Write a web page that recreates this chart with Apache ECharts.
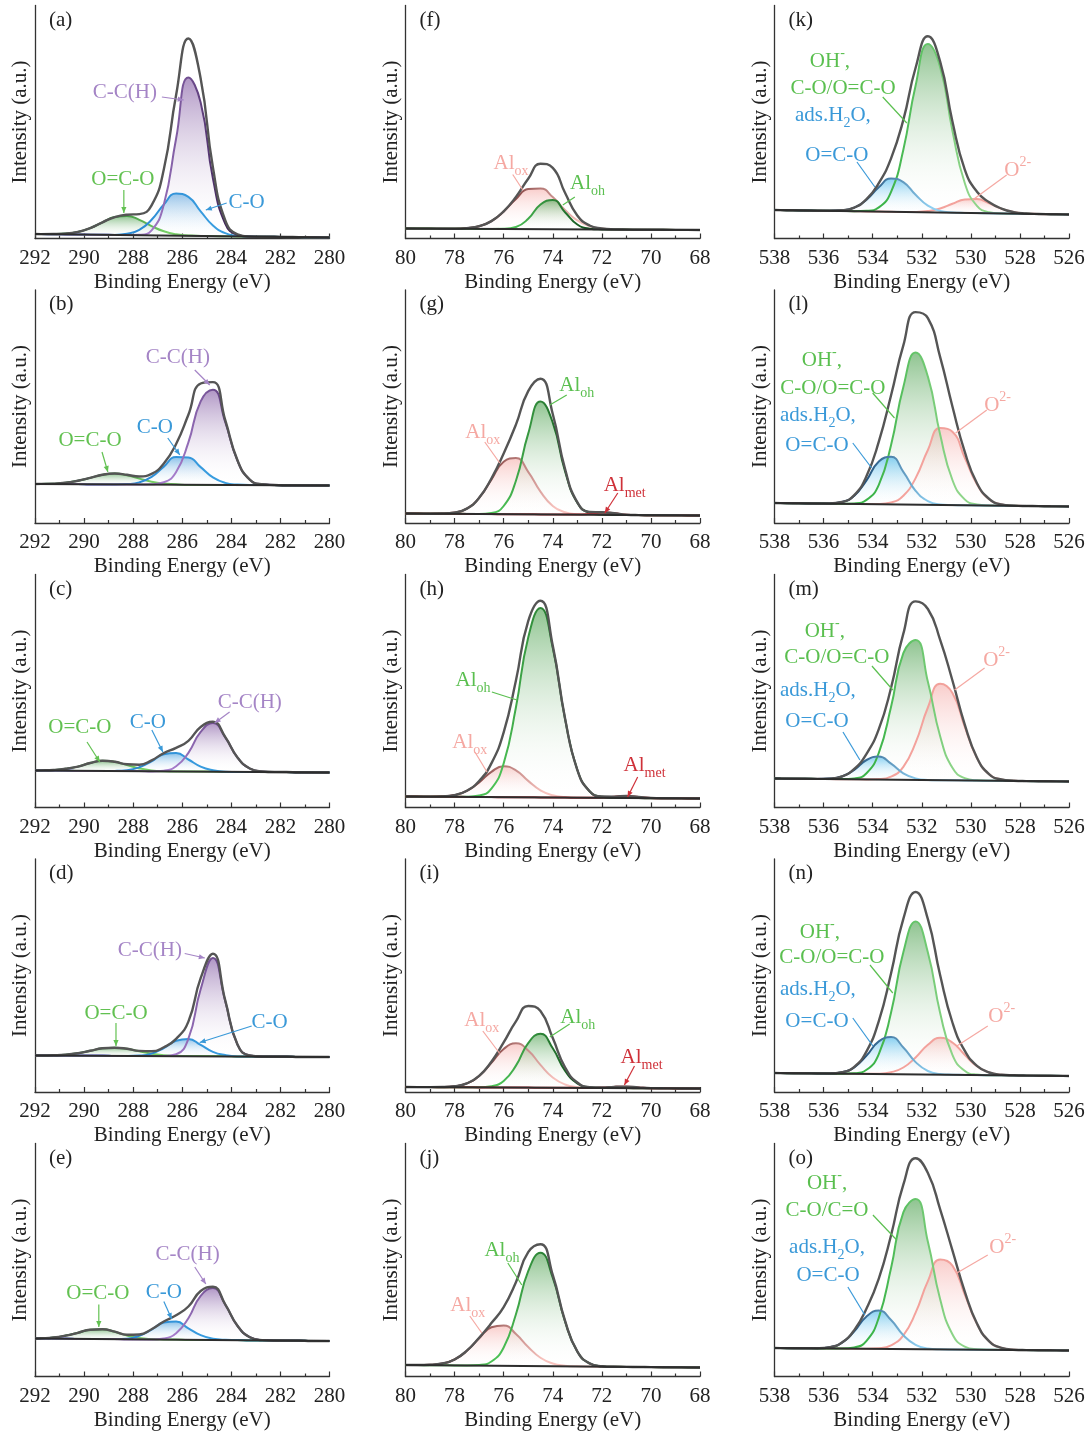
<!DOCTYPE html>
<html>
<head>
<meta charset="utf-8">
<script src="https://cdn.jsdelivr.net/npm/echarts/dist/echarts.min.js"></script>
<style>
  html, body { margin: 0; background: #fff; }
  #main { width: 1091px; height: 1434px; }
</style>
</head>
<body>
<div id="main"></div>
<script>
// binding energy grids (eV), one per column
const xC = [292, 291.75, 291.25, 290.75, 290.25, 289.75, 289.25, 288.75, 288.25, 287.75, 287.25, 286.75, 286.25, 285.75, 285.25, 284.75, 284.25, 283.75, 283.25, 282.75, 282.25, 281.75, 281.25, 280.75, 280.25, 280];
const xAl = [80, 79.5, 79, 78.5, 78, 77.5, 77, 76.5, 76, 75.5, 75, 74.5, 74, 73.5, 73, 72.5, 72, 71.5, 71, 70.5, 70, 69.5, 69, 68.5, 68];
const xO = [538, 537.75, 537.25, 536.75, 536.25, 535.75, 535.25, 534.75, 534.25, 533.75, 533.25, 532.75, 532.25, 531.75, 531.25, 530.75, 530.25, 529.75, 529.25, 528.75, 528.25, 527.75, 527.25, 526.75, 526.25, 526];

// C 1s  (a)-(e)
const aBase = [4.5, 1];
const aCCH = [4.5, 4.4, 4.3, 4.1, 4, 3.8, 3.7, 3.6, 3.4, 3.7, 8.2, 34, 100, 161, 136, 60, 15, 3.6, 1.9, 1.8, 1.7, 1.5, 1.4, 1.2, 1.1, 1];
const aCO = [4.5, 4.4, 4.3, 4.1, 4, 3.8, 3.7, 3.6, 4.7, 8.6, 18.7, 34, 45, 41.7, 27.2, 13, 5.3, 2.7, 1.9, 1.8, 1.7, 1.5, 1.4, 1.2, 1.1, 1];
const aOCO = [4.5, 4.4, 4.5, 4.9, 6.6, 10.4, 16.2, 21.4, 22.5, 18.7, 12.4, 7.2, 4.2, 3.1, 2.5, 2.4, 2.2, 2.1, 1.9, 1.8, 1.7, 1.5, 1.4, 1.2, 1.1, 1];
const aEnv = [4.5, 4.4, 4.5, 4.9, 6.6, 10.4, 16.2, 21.4, 23.8, 24.4, 33.1, 69.2, 143.5, 200, 160, 71, 18.3, 4.2, 1.9, 1.8, 1.7, 1.5, 1.4, 1.2, 1.1, 1];

const bBase = [39, 37.5];
const bCCH = [39, 39, 39, 39, 39, 38.5, 38.5, 38.5, 38.5, 38.5, 38.7, 40.7, 51, 80.7, 121.6, 133.3, 101, 62.3, 43.4, 38.7, 38, 37.5, 37.5, 37.5, 37.5, 37.5];
const bCO = [39, 39, 39, 39, 39, 38.5, 38.5, 38.5, 38.9, 40.6, 46.1, 56.4, 66, 65.5, 55.9, 45.6, 40.1, 38.4, 38, 38, 38, 37.5, 37.5, 37.5, 37.5, 37.5];
const bOCO = [39, 39.1, 39.3, 40.2, 42.3, 45.1, 48.3, 49.5, 47.8, 44.4, 41.3, 39.5, 38.8, 38, 38, 38, 38, 38, 38, 38, 38, 37.5, 37.5, 37.5, 37.5, 37.5];
const bEnv = [39, 39.1, 39.3, 40.2, 42.3, 45.1, 48.3, 49.5, 48.2, 46.5, 49.1, 59.6, 79, 108.2, 139.5, 140.9, 103.1, 62.7, 43.4, 38.7, 38, 37.5, 37.5, 37.5, 37.5, 37.5];

const cBase = [37, 35];
const cCCH = [37, 37, 37, 37, 36.5, 36.5, 36.5, 36.5, 36.5, 36.5, 36.1, 36.8, 41.2, 54.7, 75.6, 84.6, 70.2, 50, 39, 36, 35.5, 35.5, 35, 35, 35, 35];
const cCO = [37, 37, 37, 37, 36.5, 36.5, 36.5, 36.6, 37.3, 40.2, 46.1, 53.3, 54.4, 48, 40.9, 37.2, 35.7, 35.5, 35.5, 35.5, 35.5, 35.5, 35, 35, 35, 35];
const cOCO = [37, 37.1, 37.5, 38.7, 40.9, 44.5, 46.7, 45.7, 42.4, 39.1, 37, 36.2, 36, 36, 36, 36, 35.5, 35.5, 35.5, 35.5, 35.5, 35.5, 35, 35, 35, 35];
const cEnv = [37, 37.1, 37.5, 38.7, 40.9, 44.5, 46.8, 45.8, 43.2, 42.8, 47.2, 54.4, 59.6, 66.7, 80.5, 85.8, 70.6, 50.1, 39, 36, 35.5, 35.5, 35, 35, 35, 35];

const dBase = [36.5, 35];
const dCCH = [36.5, 36.5, 36.5, 36.5, 36.5, 36.5, 36.5, 36, 36, 36, 36, 36, 37.7, 53.3, 102.7, 134, 91, 47.3, 36.5, 35.5, 35.5, 35.5, 35, 35, 35, 35];
const dCO = [36.5, 36.5, 36.5, 36.5, 36.5, 36.5, 36.5, 36, 36, 36.4, 38.4, 44, 51.3, 53.1, 47.1, 40.2, 36.9, 35.6, 35.5, 35.5, 35.5, 35.5, 35, 35, 35, 35];
const dOCO = [36.5, 36.5, 36.7, 37.3, 38.8, 41.2, 43.7, 44.3, 43.2, 40.7, 38.3, 36.8, 36.2, 36, 36, 36, 36, 35.5, 35.5, 35.5, 35.5, 35.5, 35, 35, 35, 35];
const dEnv = [36.5, 36.5, 36.7, 37.3, 38.8, 41.2, 43.7, 44.3, 43.2, 41.1, 40.7, 44.8, 53.2, 70.4, 113.8, 138.2, 91.9, 47.4, 36.5, 35.5, 35.5, 35.5, 35, 35, 35, 35];

const eBase = [38, 35.5];
const eCCH = [38, 38, 38, 38, 37.5, 37.5, 37.5, 37.5, 37, 37, 37, 38, 43.3, 58.3, 80.7, 88.5, 72, 50.7, 39.3, 36.4, 36, 36, 36, 35.5, 35.5, 35.5];
const eCO = [38, 38, 38, 38, 37.5, 37.5, 37.5, 37.5, 37.8, 40.6, 46.9, 53.9, 54.9, 48.2, 41.3, 37.7, 36.7, 36.5, 36, 36, 36, 36, 36, 35.5, 35.5, 35.5];
const eOCO = [38, 38.2, 39, 40.9, 43.7, 46.8, 47.3, 44.8, 40.9, 38.4, 37.4, 37.1, 37, 36.5, 36.5, 36.5, 36.5, 36.5, 36, 36, 36, 36, 36, 35.5, 35.5, 35.5];
const eEnv = [38, 38.2, 39, 40.9, 43.7, 46.8, 47.3, 44.8, 41.7, 42, 47.3, 55, 61.2, 70, 85.5, 89.7, 72.2, 50.7, 39.3, 36.4, 36, 36, 36, 35.5, 35.5, 35.5];

// Al 2p  (f)-(j)
const fBase = [10, 8.5];
const fOx = [10, 9.9, 9.9, 9.8, 9.8, 10.4, 12.3, 17.4, 27, 39.5, 49.4, 50.1, 41.4, 28.6, 18.1, 12.3, 9.9, 9.1, 8.9, 8.8, 8.8, 8.7, 8.6, 8.6, 8.5];
const fOh = [10, 9.9, 9.9, 9.8, 9.8, 9.7, 9.6, 9.6, 9.7, 11.5, 19.7, 34, 38.6, 26.3, 14, 9.8, 9.1, 8.9, 8.9, 8.8, 8.8, 8.7, 8.6, 8.6, 8.5];
const fEnv = [10, 9.9, 9.9, 9.8, 9.8, 10.4, 12.3, 17.4, 27.2, 41.6, 59.7, 74.8, 70.7, 45.7, 23, 13, 10, 9.1, 8.9, 8.8, 8.8, 8.7, 8.6, 8.6, 8.5];

const gBase = [9.5, 7.5];
const gOx = [9.5, 9.4, 9.3, 9.45, 10.4, 14.4, 25.1, 43.4, 61.2, 64.9, 51.2, 31.4, 17.1, 10.7, 8.7, 8.25, 8.2, 8.1, 8, 7.9, 7.8, 7.75, 7.7, 7.6, 7.5];
const gOh = [9.5, 9.4, 9.3, 9.25, 9.2, 9.1, 9.1, 10, 17, 42.3, 89.4, 121.5, 100.4, 51.9, 20.3, 10.2, 8.4, 8.1, 8, 7.9, 7.8, 7.75, 7.7, 7.6, 7.5];
const gMet = [9.5, 9.4, 9.3, 9.25, 9.2, 9.1, 9, 8.9, 8.8, 8.75, 8.7, 8.6, 8.5, 8.4, 8.4, 9.15, 10.6, 9.7, 8.3, 7.9, 7.8, 7.75, 7.7, 7.6, 7.5];
const gEnv = [9.5, 9.4, 9.3, 9.45, 10.4, 14.4, 25.2, 44.5, 69.4, 98.4, 131.9, 144.3, 109, 54.2, 20.8, 11.05, 10.8, 9.7, 8.3, 7.9, 7.8, 7.75, 7.7, 7.6, 7.5];

const hBase = [11, 9];
const hOx = [11, 10.9, 10.85, 11.15, 12.4, 16.6, 25.1, 35.7, 41.3, 37.1, 26.6, 17.2, 12.2, 10.4, 9.8, 9.75, 9.7, 9.6, 9.5, 9.4, 9.3, 9.25, 9.2, 9.1, 9];
const hOh = [11, 10.9, 10.8, 10.75, 10.7, 10.8, 11.9, 18.8, 44.1, 100.2, 169.9, 199.6, 159.7, 88.8, 37.7, 16.25, 10.7, 9.7, 9.5, 9.4, 9.3, 9.25, 9.2, 9.1, 9];
const hMet = [11, 10.9, 10.8, 10.75, 10.7, 10.6, 10.5, 10.4, 10.3, 10.25, 10.2, 10.1, 10, 9.9, 9.8, 9.75, 10, 10.8, 11.5, 10.6, 9.6, 9.25, 9.2, 9.1, 9];
const hEnv = [11, 10.9, 10.85, 11.15, 12.4, 16.8, 26.5, 44.1, 75.1, 127, 186.3, 206.7, 161.9, 89.3, 37.7, 16.25, 11, 10.9, 11.5, 10.6, 9.6, 9.25, 9.2, 9.1, 9];

const iBase = [5, 3.5];
const iOx = [5, 4.9, 4.9, 5, 5.75, 8.6, 16, 29.1, 43, 48.7, 41.5, 27.1, 14.5, 7.5, 4.9, 4.2, 4, 3.9, 3.9, 3.8, 3.75, 3.7, 3.6, 3.55, 3.5];
const iOh = [5, 4.9, 4.9, 4.8, 4.75, 4.7, 4.7, 5.8, 11.1, 26.4, 48.9, 58.3, 43.7, 21.4, 8.7, 4.8, 4.1, 3.9, 3.9, 3.8, 3.75, 3.7, 3.6, 3.55, 3.5];
const iMet = [5, 4.9, 4.9, 4.8, 4.75, 4.7, 4.6, 4.55, 4.5, 4.45, 4.4, 4.3, 4.25, 4.2, 4.1, 4.05, 4.4, 5.1, 5.35, 4.5, 3.85, 3.7, 3.6, 3.55, 3.5];
const iEnv = [5, 4.9, 4.9, 5, 5.75, 8.6, 16.1, 30.3, 49.6, 70.7, 86, 81.1, 53.9, 24.7, 9.5, 4.9, 4.5, 5.1, 5.35, 4.5, 3.85, 3.7, 3.6, 3.55, 3.5];

const jBase = [11.5, 9];
const jOx = [11.5, 11.5, 11.7, 13, 17, 25.7, 38.2, 49.2, 51.1, 42.5, 29.5, 18.75, 13.05, 10.85, 10.15, 9.95, 9.8, 9.7, 9.6, 9.5, 9.4, 9.3, 9.2, 9.1, 9];
const jOh = [11.5, 11.4, 11.3, 11.2, 11.1, 11.1, 11.5, 15, 29, 62.3, 105.3, 123.85, 98.75, 55.15, 24.95, 13.15, 10.3, 9.7, 9.6, 9.5, 9.4, 9.3, 9.2, 9.1, 9];
const jEnv = [11.5, 11.5, 11.7, 13, 17, 25.8, 38.8, 53.4, 69.4, 94.2, 124.3, 132.25, 101.55, 55.85, 25.05, 13.15, 10.3, 9.7, 9.6, 9.5, 9.4, 9.3, 9.2, 9.1, 9];

// O 1s  (k)-(o)
const kBase = [28.5, 24];
const kOH = [28.5, 28.4, 28.2, 28, 27.8, 27.7, 27.5, 27.35, 27.7, 31.1, 46.7, 88.7, 153.1, 194.4, 171.3, 107.8, 55.7, 32.6, 26.3, 25.1, 24.8, 24.7, 24.5, 24.3, 24.1, 24];
const kH2O = [28.5, 28.4, 28.2, 28, 27.8, 27.8, 28.2, 30.9, 38.7, 51.2, 60.1, 56.4, 43.7, 32.8, 27.6, 26.1, 25.6, 25.4, 25.2, 25, 24.8, 24.7, 24.5, 24.3, 24.1, 24];
const kO2 = [28.5, 28.4, 28.2, 28, 27.8, 27.7, 27.5, 27.3, 27.1, 26.9, 26.7, 26.5, 26.55, 27.4, 30, 34.7, 39.1, 39.5, 35.2, 29.8, 26.4, 25.05, 24.55, 24.3, 24.1, 24];
const kEnv = [28.5, 28.4, 28.2, 28, 27.8, 27.8, 28.2, 30.95, 39.3, 55.4, 80.1, 118.6, 170.75, 202.2, 176.9, 117, 69.2, 46.7, 36.3, 29.9, 26.4, 25.05, 24.55, 24.3, 24.1, 24];

const lBase = [20, 16.5];
const lOH = [20, 19.9, 19.8, 19.6, 19.5, 19.3, 19.2, 19.6, 23.1, 38.2, 78.1, 136.1, 170.4, 146.4, 88.4, 43, 23.6, 18.5, 17.5, 17.3, 17.2, 17, 16.9, 16.7, 16.6, 16.5];
const lH2O = [20, 19.9, 19.8, 19.6, 19.5, 19.5, 21, 27.2, 42.7, 61.5, 66.2, 51.2, 32.2, 21.9, 18.6, 18, 17.7, 17.6, 17.4, 17.3, 17.2, 17, 16.9, 16.7, 16.6, 16.5];
const lO2 = [20, 19.9, 19.8, 19.6, 19.5, 19.3, 19.2, 19, 18.9, 19, 20.6, 27.3, 44.9, 73, 94.9, 91.3, 65.4, 38.8, 23.8, 18.6, 17.4, 17, 16.9, 16.7, 16.6, 16.5];
const lEnv = [20, 19.9, 19.8, 19.6, 19.5, 19.5, 21, 27.8, 46.9, 81.3, 127.7, 177.6, 210.9, 204.9, 165.9, 116.5, 71.3, 39.7, 24, 18.6, 17.4, 17, 16.9, 16.7, 16.6, 16.5];

const mBase = [29, 26];
const mOH = [29, 28.9, 28.8, 28.7, 28.6, 28.4, 28.4, 29.1, 34.3, 54.7, 100.7, 154.3, 167.4, 125.7, 71.3, 39.7, 29.4, 27.2, 26.8, 26.7, 26.6, 26.4, 26.3, 26.2, 26.1, 26];
const mH2O = [29, 28.9, 28.8, 28.7, 28.6, 28.9, 31, 37.7, 47.5, 51, 43.8, 34.2, 29.1, 27.6, 27.3, 27.2, 27.1, 26.9, 26.8, 26.7, 26.6, 26.4, 26.3, 26.2, 26.1, 26];
const mO2 = [29, 28.9, 28.8, 28.7, 28.6, 28.4, 28.3, 28.2, 28.1, 28.4, 30.9, 40.7, 64.8, 100, 123.7, 114.5, 80.9, 49.5, 33.2, 28, 26.8, 26.4, 26.3, 26.2, 26.1, 26];
const mEnv = [29, 28.9, 28.8, 28.7, 28.6, 28.9, 31.1, 38.6, 53.7, 78.3, 119.8, 173.8, 206.1, 198.5, 167.7, 127, 83.2, 49.8, 33.2, 28, 26.8, 26.4, 26.3, 26.2, 26.1, 26];

const nBase = [19, 16];
const nOH = [19, 18.9, 18.8, 18.7, 18.6, 18.4, 18.3, 18.7, 22.2, 37.8, 79.6, 139.7, 170.6, 139.4, 79.1, 37.1, 21.2, 17.4, 16.8, 16.7, 16.6, 16.4, 16.3, 16.2, 16.1, 16];
const nH2O = [19, 18.9, 18.8, 18.7, 18.6, 18.6, 19.8, 24.7, 36.4, 50.6, 54.9, 44.5, 29.9, 21, 18, 17.3, 17.1, 16.9, 16.8, 16.7, 16.6, 16.4, 16.3, 16.2, 16.1, 16];
const nO2 = [19, 18.9, 18.8, 18.7, 18.6, 18.4, 18.3, 18.2, 18.2, 18.3, 19.8, 24.5, 34.6, 47.2, 54.2, 49.5, 37.2, 25.7, 19.5, 17.3, 16.7, 16.4, 16.3, 16.2, 16.1, 16];
const nEnv = [19, 18.9, 18.8, 18.7, 18.6, 18.6, 19.8, 25.2, 40.6, 70.9, 118.7, 173.2, 200, 172.8, 116.7, 69.5, 41.3, 26.2, 19.5, 17.3, 16.7, 16.4, 16.3, 16.2, 16.1, 16];

const oBase = [28.5, 26];
const oOH = [28.5, 28.4, 28.3, 28.2, 28.1, 28, 28, 29.1, 35.6, 58.9, 108.6, 164.1, 177.4, 134.7, 77.3, 42.3, 29.9, 27.2, 26.7, 26.6, 26.5, 26.4, 26.3, 26.2, 26.05, 26];
const oH2O = [28.5, 28.4, 28.3, 28.2, 28.3, 29.3, 33.8, 45.1, 60, 66, 56.5, 41.3, 31.6, 28, 27.2, 27, 26.9, 26.8, 26.7, 26.6, 26.5, 26.4, 26.3, 26.2, 26.05, 26];
const oO2 = [28.5, 28.4, 28.3, 28.2, 28.1, 28, 27.9, 27.8, 27.8, 28.3, 31.2, 41.2, 63.8, 95.3, 116.9, 110.9, 82.2, 52.6, 35.2, 28.6, 26.8, 26.4, 26.3, 26.2, 26.05, 26];
const oEnv = [28.5, 28.4, 28.3, 28.2, 28.3, 29.3, 33.9, 46.4, 68, 97.9, 141.3, 191.8, 218.2, 203.6, 167.2, 126.2, 85.2, 53, 35.2, 28.6, 26.8, 26.4, 26.3, 26.2, 26.05, 26];

const FONT = '"Liberation Serif", "Times New Roman", serif';
const Y_MAX = 233;
const TOP0 = 5.5, ROW_STEP = 284.5, PW = 294.5;
const cols = [
    {left: 35, min: 280, max: 292, x: xC},
    {left: 405.5, min: 68, max: 80, x: xAl},
    {left: 774.5, min: 526, max: 538, x: xO}
];

// line colours (left side -> right side) and top of the fill gradient for each fitted component
const comp = {
    cch: {line: ['#a67dcc', '#3b2055'], top: 'rgba(126,84,160,0.88)'},
    co:  {line: ['#2c8ad3', '#3a9ee0'], top: 'rgba(56,150,218,0.85)'},
    oco: {line: ['#1b6a2b', '#78d066'], top: 'rgba(60,150,62,0.82)'},
    ox:  {line: ['#6e2c2c', '#f8c3be'], top: 'rgba(241,140,135,0.62)'},
    oh:  {line: ['#4cc055', '#0e4a19'], top: 'rgba(60,152,62,0.82)'},
    met: {line: ['#c4303a', '#c4303a'], top: null},
    ohO: {line: ['#3cb449', '#8fd58a'], top: 'rgba(60,152,62,0.82)'},
    h2o: {line: ['#0c3764', '#8fd0f2'], top: 'rgba(70,182,236,0.92)'},
    o2:  {line: ['#f4a39d', '#f0a09a'], top: 'rgba(241,140,135,0.62)'}
};
const textColor = {cch: '#a585c6', co: '#3a99d8', oco: '#62c151', ox: '#f5a8a2', oh: '#5abf4f', ohO: '#5abf4f', met: '#cf3139', h2o: '#3a99d8', o2: '#f5a8a2'};

const AL_OX = '{n|Al}{s|ox}', AL_OH = '{n|Al}{s|oh}', AL_MET = '{n|Al}{s|met}';
const OH_T = '{n|OH}{p|-}{n|,}', H2O_T = '{n|ads.H}{s|2}{n|O,}', O2_T = '{n|O}{p|2-}';

const panels = [
    {tag: '(a)', col: 0, row: 0, base: aBase, env: aEnv, comps: [['oco', aOCO], ['co', aCO], ['cch', aCCH]],
     notes: [['C-C(H)', 288.34, 146.5, 'cch'], ['O=C-O', 288.42, 59.5, 'oco'], ['C-O', 283.38, 36.5, 'co']],
     leads: [[286.83, 141.5, 285.94, 138.5, 'cch', 1], [288.38, 48.5, 288.38, 25.5, 'oco', 1], [284.19, 35.5, 285.04, 28.5, 'co', 1]]},
    {tag: '(b)', col: 0, row: 1, base: bBase, env: bEnv, comps: [['oco', bOCO], ['co', bCO], ['cch', bCCH]],
     notes: [['C-C(H)', 286.18, 166, 'cch'], ['C-O', 287.12, 96, 'co'], ['O=C-O', 289.76, 83, 'oco']],
     leads: [[285.49, 153, 284.88, 138, 'cch', 1], [286.59, 85, 286.1, 68, 'co', 1], [289.27, 71, 289.03, 51, 'oco', 1]]},
    {tag: '(c)', col: 0, row: 2, base: cBase, env: cEnv, comps: [['oco', cOCO], ['co', cCO], ['cch', cCCH]],
     notes: [['C-C(H)', 283.25, 105.5, 'cch'], ['C-O', 287.4, 85.5, 'co'], ['O=C-O', 290.17, 80.5, 'oco']],
     leads: [[284.07, 95.5, 284.68, 84.5, 'cch', 1], [287.24, 77.5, 286.79, 55.5, 'co', 1], [289.88, 65.5, 289.36, 45.5, 'oco', 1]]},
    {tag: '(d)', col: 0, row: 3, base: dBase, env: dEnv, comps: [['oco', dOCO], ['co', dCO], ['cch', dCCH]],
     notes: [['C-C(H)', 287.32, 142, 'cch'], ['C-O', 282.44, 70, 'co'], ['O=C-O', 288.7, 79, 'oco']],
     leads: [[285.9, 138.5, 285.08, 134, 'cch', 1], [283.17, 66, 285.29, 49.5, 'co', 1], [288.7, 69, 288.7, 46, 'oco', 1]]},
    {tag: '(e)', col: 0, row: 4, base: eBase, env: eEnv, comps: [['oco', eOCO], ['co', eCO], ['cch', eCCH]],
     notes: [['C-C(H)', 285.78, 122.5, 'cch'], ['C-O', 286.75, 84, 'co'], ['O=C-O', 289.44, 83.5, 'oco']],
     leads: [[285.49, 109.5, 285.04, 92.5, 'cch', 1], [286.75, 75, 286.43, 57.5, 'co', 1], [289.4, 72, 289.4, 49.5, 'oco', 1]]},

    {tag: '(f)', col: 1, row: 0, base: fBase, env: fEnv, comps: [['ox', fOx], ['oh', fOh]],
     notes: [[AL_OX, 75.7, 75.5, 'ox'], [AL_OH, 72.58, 55.5, 'oh']],
     leads: [[75.63, 64, 75.22, 48.5, 'ox', 0], [73.1, 41.5, 73.59, 33.5, 'oh', 0]]},
    {tag: '(g)', col: 1, row: 1, base: gBase, env: gEnv, comps: [['ox', gOx], ['oh', gOh], ['met', gMet]],
     notes: [[AL_OX, 76.85, 91, 'ox'], [AL_OH, 73.02, 138, 'oh'], [AL_MET, 71.07, 38, 'met']],
     leads: [[76.77, 81, 76.16, 60, 'ox', 0], [73.43, 128, 74.12, 118, 'oh', 0], [71.35, 30, 71.88, 10, 'met', 1]]},
    {tag: '(h)', col: 1, row: 2, base: hBase, env: hEnv, comps: [['ox', hOx], ['oh', hOh], ['met', hMet]],
     notes: [[AL_OH, 77.25, 127.5, 'oh'], [AL_OX, 77.38, 65.5, 'ox'], [AL_MET, 70.26, 42.5, 'met']],
     leads: [[76.48, 115.5, 75.46, 107.5, 'oh', 0], [77.17, 55.5, 76.68, 35.5, 'ox', 0], [70.54, 30.5, 70.95, 10.5, 'met', 1]]},
    {tag: '(i)', col: 1, row: 3, base: iBase, env: iEnv, comps: [['ox', iOx], ['oh', iOh], ['met', iMet]],
     notes: [[AL_OH, 72.98, 75, 'oh'], [AL_OX, 76.89, 72, 'ox'], [AL_MET, 70.38, 35, 'met']],
     leads: [[73.31, 68, 74.12, 55, 'oh', 0], [76.85, 61, 76.16, 38.5, 'ox', 0], [70.67, 26, 71.08, 7, 'met', 1]]},
    {tag: '(j)', col: 1, row: 4, base: jBase, env: jEnv, comps: [['ox', jOx], ['oh', jOh]],
     notes: [[AL_OH, 76.07, 126.5, 'oh'], [AL_OX, 77.46, 71.5, 'ox']],
     leads: [[75.83, 113.5, 75.26, 91.5, 'oh', 0], [77.38, 60.5, 76.89, 43.5, 'ox', 0]]},

    {tag: '(k)', col: 2, row: 0, base: kBase, env: kEnv, comps: [['o2', kO2], ['ohO', kOH], ['h2o', kH2O]],
     notes: [[OH_T, 535.74, 177.5, 'ohO'], ['C-O/O=C-O', 535.21, 150.5, 'ohO'], [H2O_T, 535.62, 123.5, 'h2o'], ['O=C-O', 535.46, 83.5, 'h2o'], [O2_T, 528.09, 68.5, 'o2']],
     leads: [[533.59, 141.5, 532.61, 115.5, 'ohO', 0], [534.64, 76.5, 533.91, 51.5, 'h2o', 0], [528.54, 63.5, 529.93, 38.5, 'o2', 0]]},
    {tag: '(l)', col: 2, row: 1, base: lBase, env: lEnv, comps: [['o2', lO2], ['ohO', lOH], ['h2o', lH2O]],
     notes: [[OH_T, 536.07, 163, 'ohO'], ['C-O/O=C-O', 535.62, 135, 'ohO'], [H2O_T, 536.23, 108, 'h2o'], ['O=C-O', 536.27, 78, 'h2o'], [O2_T, 528.91, 118, 'o2']],
     leads: [[534.0, 130, 533.11, 105, 'ohO', 0], [534.81, 80, 534.04, 55, 'h2o', 0], [529.35, 113, 530.62, 90, 'o2', 0]]},
    {tag: '(m)', col: 2, row: 2, base: mBase, env: mEnv, comps: [['o2', mO2], ['ohO', mOH], ['h2o', mH2O]],
     notes: [[OH_T, 535.95, 176.5, 'ohO'], ['C-O/O=C-O', 535.46, 150.5, 'ohO'], [H2O_T, 536.23, 117.5, 'h2o'], ['O=C-O', 536.27, 86.5, 'h2o'], [O2_T, 528.95, 147.5, 'o2']],
     leads: [[534.03, 141.5, 533.18, 117.5, 'ohO', 0], [535.21, 75.5, 534.52, 47.5, 'h2o', 0], [529.44, 139.5, 530.66, 117.5, 'o2', 0]]},
    {tag: '(n)', col: 2, row: 3, base: nBase, env: nEnv, comps: [['o2', nO2], ['ohO', nOH], ['h2o', nH2O]],
     notes: [[OH_T, 536.15, 160, 'ohO'], ['C-O/O=C-O', 535.66, 135, 'ohO'], [H2O_T, 536.23, 103, 'h2o'], ['O=C-O', 536.27, 71, 'h2o'], [O2_T, 528.74, 76, 'o2']],
     leads: [[534.11, 127, 533.18, 99, 'ohO', 0], [534.81, 74, 533.99, 46, 'h2o', 0], [529.31, 66, 530.57, 46, 'o2', 0]]},
    {tag: '(o)', col: 2, row: 4, base: oBase, env: oEnv, comps: [['o2', oO2], ['ohO', oOH], ['h2o', oH2O]],
     notes: [[OH_T, 535.86, 193.5, 'ohO'], ['C-O/C=O', 535.86, 166.5, 'ohO'], [H2O_T, 535.86, 129.5, 'h2o'], ['O=C-O', 535.82, 101.5, 'h2o'], [O2_T, 528.7, 129.5, 'o2']],
     leads: [[533.99, 161.5, 533.02, 136.5, 'ohO', 0], [535.01, 89.5, 534.32, 61.5, 'h2o', 0], [529.31, 121.5, 530.57, 103.5, 'o2', 0]]}
];

const grids = [], xAxes = [], yAxes = [];
panels.forEach((p, gi) => {
    const c = cols[p.col];
    grids.push({left: c.left, top: TOP0 + ROW_STEP * p.row, width: PW, height: Y_MAX});
    xAxes.push({
        gridIndex: gi, type: 'value', inverse: true, min: c.min, max: c.max, interval: 2,
        axisLine: {onZero: false, lineStyle: {color: '#333', width: 1.3}},
        axisTick: {inside: true, length: 5, lineStyle: {color: '#333', width: 1.2}},
        minorTick: {show: true, splitNumber: 2, length: 3, lineStyle: {color: '#333', width: 1.2}},
        splitLine: {show: false},
        axisLabel: {fontFamily: FONT, fontSize: 21, color: '#222', margin: 9},
        name: 'Binding Energy (eV)', nameLocation: 'middle', nameGap: 33,
        nameTextStyle: {fontFamily: FONT, fontSize: 21, color: '#222'}
    });
    yAxes.push({
        gridIndex: gi, type: 'value', min: 0, max: Y_MAX,
        axisLine: {show: true, lineStyle: {color: '#333', width: 1.3}},
        axisTick: {show: false}, axisLabel: {show: false}, splitLine: {show: false},
        name: 'Intensity (a.u.)', nameLocation: 'middle', nameGap: 4,
        nameTextStyle: {fontFamily: FONT, fontSize: 21, color: '#222'}
    });
});

const chart = echarts.init(document.getElementById('main'));
chart.setOption({animation: false, backgroundColor: '#fff', grid: grids, xAxis: xAxes, yAxis: yAxes});

// line colour shifts across each peak, so the gradient is placed round the peak in pixels
function lineColor(gi, xs, vals, key) {
    const st = comp[key];
    let k = 0;
    vals.forEach((v, i) => { if (v > vals[k]) k = i; });
    const px = chart.convertToPixel({gridIndex: gi}, [xs[k], 0])[0];
    return new echarts.graphic.LinearGradient(px - 40, 0, px + 40, 0, [
        {offset: 0, color: st.line[0]},
        {offset: 1, color: st.line[1]}
    ], true);
}

const series = [];
panels.forEach((p, gi) => {
    const c = cols[p.col];
    const org = Math.min(p.base[0], p.base[1]);
    p.comps.forEach(([key, vals]) => {
        const st = comp[key];
        series.push({
            type: 'line', xAxisIndex: gi, yAxisIndex: gi, silent: true,
            data: c.x.map((x, i) => [x, vals[i]]),
            smooth: 0.5, symbol: 'none',
            lineStyle: {color: lineColor(gi, c.x, vals, key), width: 2},
            areaStyle: st.top ? {
                origin: org,
                color: new echarts.graphic.LinearGradient(0, 0, 0, 1, [
                    {offset: 0, color: st.top},
                    {offset: 1, color: 'rgba(255,255,255,0)'}
                ])
            } : undefined
        });
    });
    // fitted envelope
    series.push({
        type: 'line', xAxisIndex: gi, yAxisIndex: gi, silent: true,
        data: c.x.map((x, i) => [x, p.env[i]]),
        smooth: 0.5, symbol: 'none', lineStyle: {color: '#555', width: 2.4}
    });
    // background
    series.push({
        type: 'line', xAxisIndex: gi, yAxisIndex: gi, silent: true,
        data: [[c.max, p.base[0]], [c.min, p.base[1]]],
        symbol: 'none', lineStyle: {color: '#2d2d2d', width: 2}
    });
});
chart.setOption({series: series});

function richStyle(col) {
    return {
        n: {fontFamily: FONT, fontSize: 21, fill: col, lineHeight: 30},
        s: {fontFamily: FONT, fontSize: 14, fill: col, verticalAlign: 'bottom'},
        p: {fontFamily: FONT, fontSize: 14, fill: col, verticalAlign: 'top'}
    };
}

// panel tags, labels and leader lines
const gfx = [];
panels.forEach((p, gi) => {
    const left = cols[p.col].left, top = TOP0 + ROW_STEP * p.row;
    gfx.push({type: 'text', x: left + 14, y: top + 4, z: 100,
        style: {text: p.tag, fontFamily: FONT, fontSize: 21, fill: '#222'}});
    p.notes.forEach(([txt, ex, ey, key]) => {
        const pt = chart.convertToPixel({gridIndex: gi}, [ex, ey]);
        const col = textColor[key];
        gfx.push({type: 'text', x: pt[0], y: pt[1], z: 100,
            style: {text: txt, align: 'center', verticalAlign: 'middle',
                fontFamily: FONT, fontSize: 21, fill: col, rich: richStyle(col)}});
    });
    p.leads.forEach(([x1, y1, x2, y2, key, arrow]) => {
        const a = chart.convertToPixel({gridIndex: gi}, [x1, y1]);
        const b = chart.convertToPixel({gridIndex: gi}, [x2, y2]);
        const col = textColor[key];
        gfx.push({type: 'line', z: 100, shape: {x1: a[0], y1: a[1], x2: b[0], y2: b[1]},
            style: {stroke: col, lineWidth: 1.2}});
        if (arrow) {
            const dx = b[0] - a[0], dy = b[1] - a[1], len = Math.hypot(dx, dy);
            const ux = dx / len, uy = dy / len, h = 6, w = 2.6;
            gfx.push({type: 'polygon', z: 100, shape: {points: [
                [b[0], b[1]],
                [b[0] - ux * h - uy * w, b[1] - uy * h + ux * w],
                [b[0] - ux * h + uy * w, b[1] - uy * h - ux * w]
            ]}, style: {fill: col}});
        }
    });
});
chart.setOption({graphic: gfx});
</script>
</body>
</html>
